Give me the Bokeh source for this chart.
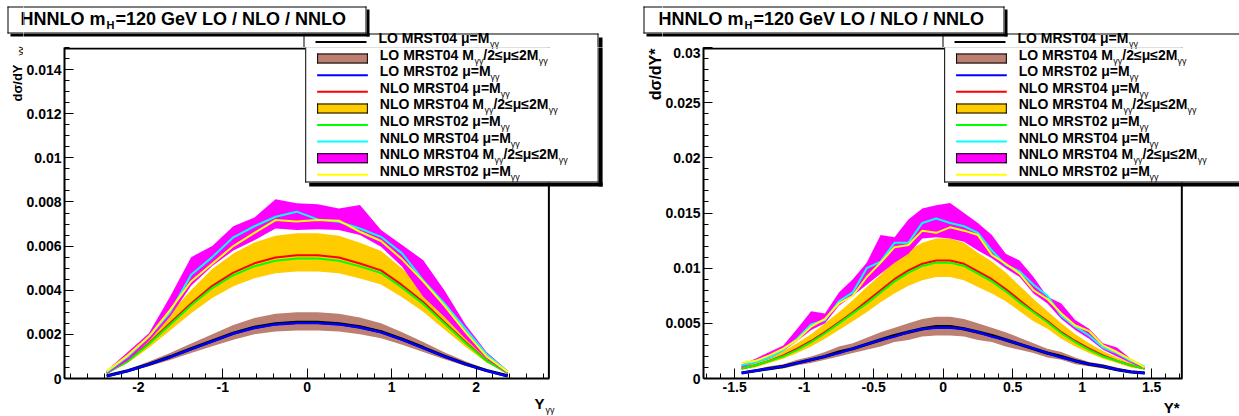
import math
from bokeh.plotting import figure
from bokeh.models import (BoxAnnotation, Label, SingleIntervalTicker,
                          CustomJSTickFormatter, Range1d)
from bokeh.layouts import row, column
from bokeh.embed import file_html
from bokeh.resources import INLINE

# ---------------- data: left panel (Y_gamma gamma) ----------------
x_yy = [-2.375, -2.125, -1.875, -1.625, -1.375, -1.125, -0.875, -0.625, -0.375, -0.125,
        0.125, 0.375, 0.625, 0.875, 1.125, 1.375, 1.625, 1.875, 2.125, 2.375]
lo04_yy = [0.00012, 0.00035, 0.00065, 0.00098, 0.00135, 0.00170, 0.00205, 0.00232, 0.00248, 0.00254,
           0.00254, 0.00248, 0.00234, 0.00212, 0.00178, 0.00140, 0.00101, 0.00066, 0.00036, 0.00012]
lo02_yy = [0.00011, 0.00034, 0.00064, 0.00097, 0.00133, 0.00168, 0.00203, 0.00229, 0.00245, 0.00251,
           0.00251, 0.00245, 0.00231, 0.00209, 0.00176, 0.00138, 0.00100, 0.00065, 0.00035, 0.00011]
lo_up_yy = [0.00015, 0.00041, 0.00077, 0.00116, 0.00159, 0.00201, 0.00242, 0.00274, 0.00293, 0.00300,
            0.00300, 0.00293, 0.00276, 0.00250, 0.00210, 0.00165, 0.00119, 0.00078, 0.00042, 0.00015]
lo_dn_yy = [0.00010, 0.00030, 0.00056, 0.00084, 0.00116, 0.00146, 0.00176, 0.00200, 0.00213, 0.00218,
            0.00218, 0.00213, 0.00201, 0.00182, 0.00153, 0.00120, 0.00087, 0.00057, 0.00031, 0.00010]
nlo04_yy = [0.00025, 0.00080, 0.00160, 0.00250, 0.00340, 0.00420, 0.00480, 0.00522, 0.00548, 0.00558,
            0.00558, 0.00548, 0.00521, 0.00490, 0.00423, 0.00347, 0.00255, 0.00165, 0.00082, 0.00025]
nlo02_yy = [0.00024, 0.00078, 0.00156, 0.00244, 0.00332, 0.00410, 0.00468, 0.00509, 0.00534, 0.00544,
            0.00544, 0.00534, 0.00508, 0.00478, 0.00412, 0.00338, 0.00249, 0.00161, 0.00080, 0.00024]
nlo_up_yy = [0.00030, 0.00094, 0.00189, 0.00295, 0.00401, 0.00496, 0.00566, 0.00616, 0.00647, 0.00658,
             0.00658, 0.00647, 0.00615, 0.00578, 0.00499, 0.00409, 0.00301, 0.00195, 0.00097, 0.00030]
nlo_dn_yy = [0.00022, 0.00070, 0.00139, 0.00218, 0.00296, 0.00365, 0.00418, 0.00454, 0.00477, 0.00485,
             0.00485, 0.00477, 0.00453, 0.00426, 0.00368, 0.00302, 0.00222, 0.00144, 0.00071, 0.00022]
nnlo04_yy = [0.00030, 0.00100, 0.00190, 0.00300, 0.00470, 0.00550, 0.00640, 0.00690, 0.00733, 0.00756,
             0.00721, 0.00710, 0.00680, 0.00642, 0.00567, 0.00445, 0.00340, 0.00225, 0.00110, 0.00030]
nnlo02_yy = [0.00033, 0.00105, 0.00190, 0.00310, 0.00440, 0.00520, 0.00600, 0.00660, 0.00718, 0.00712,
             0.00718, 0.00715, 0.00665, 0.00623, 0.00540, 0.00440, 0.00330, 0.00210, 0.00100, 0.00030]
nnlo_up_yy = [0.00036, 0.00120, 0.00205, 0.00370, 0.00550, 0.00600, 0.00690, 0.00730, 0.00812, 0.00794,
              0.00790, 0.00770, 0.00786, 0.00673, 0.00605, 0.00536, 0.00400, 0.00245, 0.00120, 0.00036]
nnlo_dn_yy = [0.00020, 0.00082, 0.00170, 0.00280, 0.00420, 0.00510, 0.00580, 0.00627, 0.00680, 0.00673,
              0.00676, 0.00673, 0.00650, 0.00597, 0.00506, 0.00370, 0.00280, 0.00180, 0.00090, 0.00020]

# ---------------- data: right panel (Y*) ----------------
x_ys = [-1.45, -1.35, -1.25, -1.15, -1.05, -0.95, -0.85, -0.75, -0.65, -0.55,
        -0.45, -0.35, -0.25, -0.15, -0.05, 0.05, 0.15, 0.25, 0.35, 0.45,
        0.55, 0.65, 0.75, 0.85, 0.95, 1.05, 1.15, 1.25, 1.35, 1.45]
lo04_ys = [0.0005, 0.0007, 0.0009, 0.0011, 0.0014, 0.0017, 0.0020, 0.0024, 0.0027, 0.0031,
           0.0035, 0.0039, 0.0042, 0.0045, 0.0047, 0.0047, 0.0045, 0.0042, 0.0039, 0.0035,
           0.0031, 0.0027, 0.0023, 0.0020, 0.0016, 0.0013, 0.0011, 0.0008, 0.0006, 0.0005]
lo02_ys = [0.0005, 0.0007, 0.0009, 0.0011, 0.0014, 0.0017, 0.0020, 0.0023, 0.0027, 0.0031,
           0.0035, 0.0038, 0.0042, 0.0045, 0.0046, 0.0046, 0.0045, 0.0042, 0.0038, 0.0035,
           0.0031, 0.0027, 0.0023, 0.0019, 0.0016, 0.0013, 0.0011, 0.0008, 0.0006, 0.0005]
lo_up_ys = [0.0006, 0.0008, 0.0011, 0.0013, 0.0017, 0.0020, 0.0024, 0.0029, 0.0032, 0.0037,
            0.0042, 0.0046, 0.0050, 0.0054, 0.0056, 0.0056, 0.0054, 0.0050, 0.0046, 0.0042,
            0.0037, 0.0032, 0.0027, 0.0024, 0.0019, 0.0015, 0.0013, 0.0010, 0.0007, 0.0006]
lo_dn_ys = [0.0004, 0.0006, 0.0008, 0.0009, 0.0012, 0.0014, 0.0017, 0.0020, 0.0023, 0.0026,
            0.0029, 0.0033, 0.0035, 0.0038, 0.0039, 0.0039, 0.0038, 0.0035, 0.0033, 0.0029,
            0.0026, 0.0023, 0.0019, 0.0017, 0.0013, 0.0011, 0.0009, 0.0007, 0.0005, 0.0004]
nlo04_ys = [0.0009, 0.0012, 0.0016, 0.0021, 0.0027, 0.0034, 0.0042, 0.0051, 0.0060, 0.0070,
            0.0080, 0.0090, 0.0098, 0.0104, 0.0107, 0.0107, 0.0104, 0.0097, 0.0090, 0.0081,
            0.0071, 0.0061, 0.0052, 0.0042, 0.0034, 0.0027, 0.0021, 0.0016, 0.0012, 0.0009]
nlo02_ys = [0.0009, 0.0012, 0.0016, 0.0020, 0.0026, 0.0033, 0.0041, 0.0050, 0.0059, 0.0068,
            0.0078, 0.0088, 0.0096, 0.0102, 0.0105, 0.0105, 0.0102, 0.0095, 0.0088, 0.0079,
            0.0069, 0.0060, 0.0051, 0.0041, 0.0033, 0.0026, 0.0020, 0.0016, 0.0012, 0.0009]
nlo_up_ys = [0.0011, 0.0014, 0.0019, 0.0025, 0.0032, 0.0040, 0.0050, 0.0060, 0.0071, 0.0083,
             0.0094, 0.0106, 0.0116, 0.0123, 0.0127, 0.0127, 0.0123, 0.0114, 0.0106, 0.0096,
             0.0084, 0.0072, 0.0061, 0.0050, 0.0040, 0.0032, 0.0025, 0.0019, 0.0014, 0.0011]
nlo_dn_ys = [0.0008, 0.0010, 0.0014, 0.0018, 0.0023, 0.0029, 0.0036, 0.0044, 0.0052, 0.0060,
             0.0069, 0.0077, 0.0084, 0.0089, 0.0092, 0.0092, 0.0089, 0.0083, 0.0077, 0.0070,
             0.0061, 0.0052, 0.0045, 0.0036, 0.0029, 0.0023, 0.0018, 0.0014, 0.0010, 0.0008]
nnlo04_ys = [0.0012, 0.0015, 0.0019, 0.0026, 0.0036, 0.0049, 0.0053, 0.0070, 0.0078, 0.0100,
             0.0106, 0.0123, 0.0123, 0.0141, 0.0145, 0.0141, 0.0138, 0.0132, 0.0116, 0.0103,
             0.0097, 0.0085, 0.0075, 0.0057, 0.0047, 0.0039, 0.0028, 0.0023, 0.0016, 0.0011]
nnlo02_ys = [0.0014, 0.0016, 0.0021, 0.0027, 0.0035, 0.0047, 0.0054, 0.0068, 0.0075, 0.0092,
             0.0105, 0.0119, 0.0121, 0.0134, 0.0132, 0.0137, 0.0134, 0.0130, 0.0112, 0.0104,
             0.0095, 0.0080, 0.0072, 0.0059, 0.0048, 0.0043, 0.0030, 0.0024, 0.0017, 0.0010]
nnlo_up_ys = [0.0013, 0.0018, 0.0024, 0.0030, 0.0045, 0.0061, 0.0059, 0.0078, 0.0090, 0.0105,
              0.0130, 0.0128, 0.0144, 0.0154, 0.0157, 0.0159, 0.0150, 0.0141, 0.0130, 0.0113,
              0.0107, 0.0092, 0.0074, 0.0068, 0.0053, 0.0045, 0.0032, 0.0028, 0.0018, 0.0011]
nnlo_dn_ys = [0.0010, 0.0014, 0.0018, 0.0025, 0.0034, 0.0044, 0.0050, 0.0066, 0.0075, 0.0085,
              0.0095, 0.0105, 0.0113, 0.0127, 0.0128, 0.0127, 0.0124, 0.0116, 0.0109, 0.0100,
              0.0092, 0.0077, 0.0068, 0.0054, 0.0044, 0.0036, 0.0026, 0.0020, 0.0014, 0.0009]

# ---------------- texts ----------------
SUB = "γγ"
title_parts = ["HNNLO m", "H", "=120 GeV LO / NLO / NNLO"]
legend_rows = [
    ("line", "black", ["LO MRST04 μ=M", SUB]),
    ("band", "#bc8072", ["LO MRST04 M", SUB, "/2≤μ≤2M", SUB]),
    ("line", "#0000ff", ["LO MRST02 μ=M", SUB]),
    ("line", "#ff0000", ["NLO MRST04 μ=M", SUB]),
    ("band", "#ffcc00", ["NLO MRST04 M", SUB, "/2≤μ≤2M", SUB]),
    ("line", "#00ff00", ["NLO MRST02 μ=M", SUB]),
    ("line", "#00ffff", ["NNLO MRST04 μ=M", SUB]),
    ("band", "#ff00ff", ["NNLO MRST04 M", SUB, "/2≤μ≤2M", SUB]),
    ("line", "#ffff00", ["NNLO MRST02 μ=M", SUB]),
]

FONT = "Liberation Sans"
WID = {' ': 278, '/': 278, '=': 584, '*': 389, '.': 278, 'L': 611, 'O': 778, 'M': 833,
       'R': 722, 'S': 667, 'T': 611, 'N': 722, 'H': 722, 'G': 778, 'V': 667, 'e': 556,
       'm': 889, 'μ': 577, '≤': 549, 'Y': 667, 'd': 611, 'σ': 600}


def tw(s, size):
    return sum(WID.get(c, 556) for c in s) / 1000.0 * size


TICK_JS = "return tick == 0 ? '0' : String(parseFloat(tick.toFixed(6)));"
H_TOTAL, SPLIT, FOOT = 416, 47, 398


def aux_fig(l, r, t, b):
    f = figure(width=int(r - l), height=int(b - t), x_range=Range1d(l, r), y_range=Range1d(-b, -t),
               x_axis_type=None, y_axis_type=None, output_backend="svg",
               toolbar_location=None, title=None, min_border=0,
               min_border_left=0, min_border_right=0, min_border_top=0, min_border_bottom=0)
    f.outline_line_color = None
    f.background_fill_color = "white"
    f.border_fill_color = "white"
    return f


def build(cfg):
    ox, Wp, SW = cfg["origin"], cfg["width"], cfg["strip"]
    fl, fr, ft, fb = cfg["frame"]          # drawn frame edges in page pixels (ft == SPLIT)
    x0, x1 = cfg["xr"]
    y0, y1 = cfg["yr"]
    ml = ox + SW                            # left edge of header/main/footer column
    pr = ox + Wp                            # right edge of the panel
    # the bokeh frame runs up to the panel's right edge; the x range is extended to match
    x_end = x0 + (pr - fl) / (fr - fl) * (x1 - x0)

    main = figure(width=pr - ml, height=FOOT - SPLIT,
                  x_range=Range1d(x0, x_end), y_range=Range1d(y0, y1),
                  output_backend="svg", toolbar_location=None, title=None,
                  min_border_left=fl - ml, min_border_right=0,
                  min_border_top=0, min_border_bottom=FOOT - fb)
    main.xgrid.visible = False
    main.ygrid.visible = False
    main.outline_line_color = None
    main.background_fill_color = "white"
    main.border_fill_color = "white"

    for ax, iv, nm, tin in ((main.xaxis, cfg["xtick"], 5, 10),
                            (main.yaxis, cfg["ytick"], cfg["yminor"], 9)):
        ax.ticker = SingleIntervalTicker(interval=iv, num_minor_ticks=nm)
        ax.formatter = CustomJSTickFormatter(code=TICK_JS)
        ax.major_tick_in = tin
        ax.major_tick_out = 0
        ax.minor_tick_in = 5
        ax.minor_tick_out = 0
        ax.axis_line_width = 2
        ax.axis_line_color = "black"
        ax.major_tick_line_color = "black"
        ax.minor_tick_line_color = "black"
        ax.major_label_text_font = FONT
        ax.major_label_text_font_size = "14px"
        ax.major_label_text_font_style = "bold"
        ax.major_label_text_color = "black"
        ax.major_label_standoff = 3
    main.xaxis.bounds = (x0, x1)

    d = cfg["data"]
    x = d["x"]
    main.varea(x=x, y1=d["lo_dn"], y2=d["lo_up"], fill_color="#bc8072")
    main.line(x, d["lo04"], line_color="black", line_width=3.2)
    main.line(x, d["lo02"], line_color="#0000ff", line_width=2.4)
    main.varea(x=x, y1=d["nlo_dn"], y2=d["nlo_up"], fill_color="#ffcc00")
    main.line(x, d["nlo04"], line_color="#ff0000", line_width=2)
    main.line(x, d["nlo02"], line_color="#00ff00", line_width=2)
    main.varea(x=x, y1=d["nnlo_dn"], y2=d["nnlo_up"], fill_color="#ff00ff")
    main.line(x, d["nnlo04"], line_color="#00ffff", line_width=2)
    main.line(x, d["nnlo02"], line_color="#ffff00", line_width=2)

    lstrip = aux_fig(ox, ml, 0, H_TOTAL)
    header = aux_fig(ml, pr, 0, SPLIT)
    footer = aux_fig(ml, pr, FOOT, H_TOTAL)

    ident = lambda v: v
    neg = lambda v: -v
    parts = [
        (main, lambda px: x0 + (px - fl) / (fr - fl) * (x1 - x0),
         lambda py: y0 + (fb - py) / (fb - ft) * (y1 - y0), (ml, pr, SPLIT, FOOT)),
        (lstrip, ident, neg, (ox, ml, 0, H_TOTAL)),
        (header, ident, neg, (ml, pr, 0, SPLIT)),
        (footer, ident, neg, (ml, pr, FOOT, H_TOTAL)),
    ]

    def box(l, t, r, b, fill):
        # filled rectangle (page pixels), split over the sub-figures that it touches
        for f, fx, fy, (rl, rr, rt, rb) in parts:
            cl, cr, ct, cb = max(l, rl - 1), min(r, rr + 1), max(t, rt - 1), min(b, rb + 1)
            if cl >= cr or ct >= cb:
                continue
            f.add_layout(BoxAnnotation(left=fx(cl), right=fx(cr), top=fy(ct), bottom=fy(cb),
                                       fill_color=fill, fill_alpha=1.0,
                                       line_color=None, line_alpha=0.0, line_width=0))

    def pave(l, t, r, b, fill, shadow=0, lw=1):
        if shadow:
            box(r, t + shadow, r + shadow, b + shadow, "black")
            box(l + shadow, b, r + shadow, b + shadow, "black")
        box(l, t, r, b, fill)
        box(l, t, r, t + lw, "black")
        box(l, b - lw, r, b, "black")
        box(l, t, l + lw, b, "black")
        box(r - lw, t, r, b, "black")

    def text(px, py, s, size, bold=True, align="left", angle=0.0):
        w = tw(s, size) if bold else 0.62 * size * len(s)
        h = 0.75 * size
        if angle == 0.0:
            l = {"left": px, "right": px - w, "center": px - w / 2}[align]
            r, t, b = l + w, py - h, py + h
        else:
            t, b = {"right": (py, py + w), "left": (py - w, py), "center": (py - w / 2, py + w / 2)}[align]
            l, r = px - h, px + h
        for f, fx, fy, (rl, rr, rt, rb) in parts:
            if r < rl or l > rr or b < rt or t > rb:
                continue
            f.add_layout(Label(x=fx(px), y=fy(py), text=s, text_font=FONT,
                               text_font_size=f"{size}px",
                               text_font_style="bold" if bold else "normal",
                               text_align=align, text_baseline="middle", angle=angle,
                               text_color="black"))

    # frame top and right edges (left/bottom are drawn by the axes)
    box(fl, ft, fr, ft + 2, "black")
    box(fr - 2, ft, fr, fb, "black")

    # legend pave
    L, R, T, B = cfg["legend"]
    pave(L, T, R, B, "white", shadow=4)
    for i, (kind, col, segs) in enumerate(legend_rows):
        ysym = 41.5 + 16.6 * i
        yt = ysym - 4
        if kind == "band":
            pave(L + 12, ysym - 5, L + 63, ysym + 5, col)
        else:
            box(L + 12, ysym - 1, L + 63, ysym + 1, col)
        xx = L + 75
        for s in segs:
            if s == SUB:
                text(xx + 1, yt + 6, s, 9, bold=False)
                xx += 10
            else:
                text(xx, yt, s, 14)
                xx += tw(s, 14)

    # title pave
    TL, TR = cfg["title"]
    pave(TL, 6, TR, 33, "white", shadow=3)
    tx = TL + cfg["title_pad"]
    text(tx, 18.5, title_parts[0], 18)
    tx += tw(title_parts[0], 18)
    text(tx + 1, 24, title_parts[1], 11)
    tx += tw(title_parts[1], 11) + 2
    text(tx, 18.5, title_parts[2], 18)

    # axis titles (ROOT style: at the end of each axis)
    for (px, py, s, size, bold, align, ang) in cfg["axis_titles"]:
        text(px, py, s, size, bold=bold, align=align, angle=ang)

    # header / footer wrapped on their own so that bokeh does not align their frames with main
    return row(lstrip, column(row(header), main, row(footer)))


left_cfg = dict(
    origin=0, width=620, strip=23, frame=(61, 549, 47, 378), xr=(-2.875, 2.875), yr=(0.0, 0.015),
    xtick=1.0, ytick=0.002, yminor=4,
    data=dict(x=x_yy, lo04=lo04_yy, lo02=lo02_yy, lo_up=lo_up_yy, lo_dn=lo_dn_yy,
              nlo04=nlo04_yy, nlo02=nlo02_yy, nlo_up=nlo_up_yy, nlo_dn=nlo_dn_yy,
              nnlo04=nnlo04_yy, nnlo02=nnlo02_yy, nnlo_up=nnlo_up_yy, nnlo_dn=nnlo_dn_yy),
    legend=(303, 598, 33, 182), title=(7, 366), title_pad=13,
    axis_titles=[(17, 64, "dσ/dY", 13, True, "right", math.pi / 2),
                 (20, 46, SUB, 9, False, "right", math.pi / 2),
                 (544, 403, "Y", 15, True, "right", 0.0),
                 (545, 409, SUB, 9, False, "left", 0.0)],
)
right_cfg = dict(
    origin=620, width=619, strip=42, frame=(700, 1182, 47, 378), xr=(-1.724, 1.724), yr=(0.0, 0.03),
    xtick=0.5, ytick=0.005, yminor=5,
    data=dict(x=x_ys, lo04=lo04_ys, lo02=lo02_ys, lo_up=lo_up_ys, lo_dn=lo_dn_ys,
              nlo04=nlo04_ys, nlo02=nlo02_ys, nlo_up=nlo_up_ys, nlo_dn=nlo_dn_ys,
              nnlo04=nnlo04_ys, nnlo02=nnlo02_ys, nnlo_up=nnlo_up_ys, nnlo_dn=nnlo_dn_ys),
    legend=(942, 1244, 33, 182), title=(643, 1004), title_pad=15,
    axis_titles=[(655, 48, "dσ/dY*", 16, True, "right", math.pi / 2),
                 (1179, 407, "Y*", 15, True, "right", 0.0)],
)

layout = row(build(left_cfg), build(right_cfg))
open("out.html", "w").write(file_html(layout, INLINE))
